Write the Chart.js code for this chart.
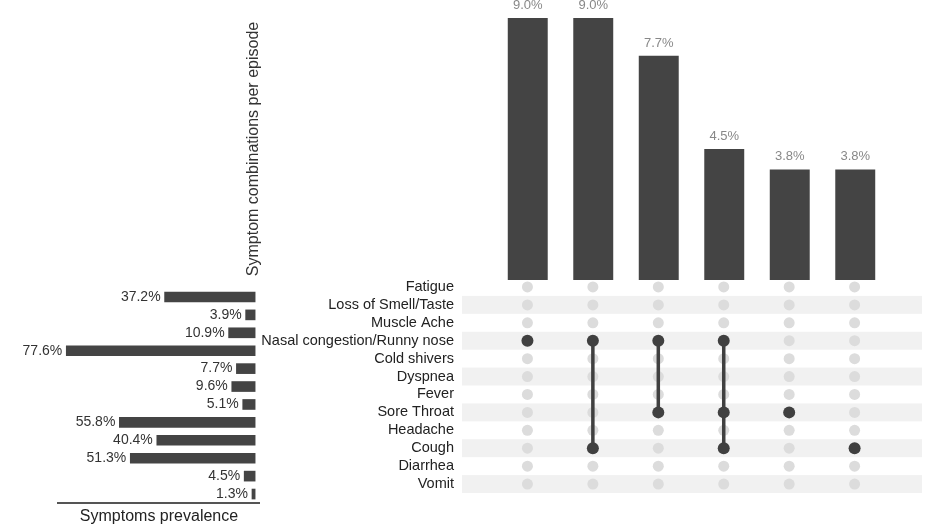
<!DOCTYPE html>
<html>
<head>
<meta charset="utf-8">
<script src="https://cdn.jsdelivr.net/npm/chart.js@4.4.1/dist/chart.umd.min.js"></script>
<style>
  html, body { margin: 0; padding: 0; background: #fff; }
  #wrap { position: relative; width: 925px; height: 528px; overflow: hidden; }
  .box { position: absolute; }
</style>
</head>
<body>
<div id="wrap">
  <div class="box" style="left:240px;top:0;width:685px;height:280px"><canvas id="combos"></canvas></div>
  <div class="box" style="left:250px;top:278px;width:675px;height:215px"><canvas id="matrix"></canvas></div>
  <div class="box" style="left:0;top:288px;width:260px;height:240px"><canvas id="prev"></canvas></div>
</div>
<script>
// symptom rows (top to bottom)
const symptoms = ['Fatigue', 'Loss of Smell/Taste', 'Muscle Ache', 'Nasal congestion/Runny nose',
  'Cold shivers', 'Dyspnea', 'Fever', 'Sore Throat', 'Headache', 'Cough', 'Diarrhea', 'Vomit'];
// % of episodes with each symptom
const prevalence = [37.2, 3.9, 10.9, 77.6, 7.7, 9.6, 5.1, 55.8, 40.4, 51.3, 4.5, 1.3];

// symptom combinations (columns, left to right)
const combos = [
  ['Nasal congestion/Runny nose'],
  ['Nasal congestion/Runny nose', 'Cough'],
  ['Nasal congestion/Runny nose', 'Sore Throat'],
  ['Nasal congestion/Runny nose', 'Sore Throat', 'Cough'],
  ['Sore Throat'],
  ['Cough']
];
// % of episodes per combination
const comboShare = [9.0, 9.0, 7.7, 4.5, 3.8, 3.8];

const FONT = "'Liberation Sans', Arial, sans-serif";
Chart.defaults.font.family = FONT;
const DARK = '#444444';

// ---- top: combination bars ----
const topLabels = {
  id: 'topLabels',
  afterDatasetsDraw(chart) {
    const ctx = chart.ctx;
    ctx.save();
    ctx.font = '13px ' + FONT;
    ctx.fillStyle = '#888';
    ctx.textAlign = 'center';
    ctx.textBaseline = 'alphabetic';
    chart.getDatasetMeta(0).data.forEach((bar, i) => {
      ctx.fillText(comboShare[i].toFixed(1) + '%', bar.x, bar.y - 9);
    });
    ctx.restore();
  }
};

new Chart(document.getElementById('combos'), {
  type: 'bar',
  data: {
    labels: combos.map(c => c.join(' + ')),
    datasets: [{
      data: comboShare,
      backgroundColor: DARK,
      barPercentage: 0.61,
      categoryPercentage: 1
    }]
  },
  options: {
    responsive: true,
    maintainAspectRatio: false,
    animation: false,
    layout: { padding: { top: 18, right: 37 } },
    plugins: { legend: { display: false }, tooltip: { enabled: false } },
    scales: {
      x: { display: false },
      y: {
        min: 0, max: 9,
        ticks: { display: false },
        grid: { display: false },
        border: { display: false },
        title: {
          display: true,
          text: 'Symptom combinations per episode',
          color: '#333',
          font: { size: 16 },
          padding: { top: 4, bottom: 4 }
        },
        afterFit(s) { s.width = 255; }
      }
    }
  },
  plugins: [topLabels]
});

// ---- matrix of dots ----
const bgDots = [];
combos.forEach((c, ci) => symptoms.forEach(s => bgDots.push({ x: ci, y: s })));

const comboSets = combos.map((c, ci) => ({
  data: symptoms.filter(s => c.includes(s)).map(s => ({ x: ci, y: s })),
  showLine: true,
  borderColor: '#404040',
  borderWidth: 3.5,
  pointRadius: 6,
  pointBackgroundColor: '#404040',
  pointBorderWidth: 0,
  order: 0
}));

const stripes = {
  id: 'stripes',
  beforeDatasetsDraw(chart) {
    const ctx = chart.ctx, y = chart.scales.y, area = chart.chartArea;
    const band = (y.bottom - y.top) / symptoms.length;
    ctx.save();
    ctx.fillStyle = '#f1f1f1';
    symptoms.forEach((s, i) => {
      if (i % 2 === 1) {
        ctx.fillRect(area.left, y.getPixelForValue(i) - band / 2, area.right - area.left, band);
      }
    });
    ctx.restore();
  }
};

new Chart(document.getElementById('matrix'), {
  type: 'scatter',
  data: {
    datasets: comboSets.concat([{
      data: bgDots,
      pointRadius: 5.5,
      pointBackgroundColor: '#dcdcdc',
      pointBorderWidth: 0,
      order: 1
    }])
  },
  options: {
    responsive: true,
    maintainAspectRatio: false,
    animation: false,
    layout: { autoPadding: false, padding: { right: 3 } },
    plugins: { legend: { display: false }, tooltip: { enabled: false } },
    scales: {
      x: { type: 'linear', min: -1, max: 6.03, display: false },
      y: {
        type: 'category',
        labels: symptoms,
        offset: true,
        grid: { display: false, drawTicks: false },
        border: { display: false },
        ticks: { color: '#222', font: { size: 14.5 }, padding: 8, autoSkip: false },
        afterFit(s) { s.width = 212; s.paddingTop = 0; s.paddingBottom = 0; }
      }
    }
  },
  plugins: [stripes]
});

// ---- left: symptom prevalence ----
const prevLabels = {
  id: 'prevLabels',
  afterDatasetsDraw(chart) {
    const ctx = chart.ctx;
    ctx.save();
    ctx.font = '14px ' + FONT;
    ctx.fillStyle = '#333';
    ctx.textAlign = 'right';
    ctx.textBaseline = 'middle';
    chart.getDatasetMeta(0).data.forEach((bar, i) => {
      ctx.fillText(prevalence[i].toFixed(1) + '%', bar.x - 4, bar.y);
    });
    ctx.restore();
  }
};

new Chart(document.getElementById('prev'), {
  type: 'bar',
  data: {
    labels: symptoms,
    datasets: [{ data: prevalence, backgroundColor: DARK, barThickness: 10 }]
  },
  options: {
    indexAxis: 'y',
    responsive: true,
    maintainAspectRatio: false,
    animation: false,
    layout: { padding: { left: 58 } },
    plugins: { legend: { display: false }, tooltip: { enabled: false } },
    scales: {
      y: { display: false },
      x: {
        reverse: true,
        min: -2, max: 81,
        ticks: { display: false },
        grid: { display: false },
        border: { display: true, color: '#555', width: 2 },
        title: {
          display: true,
          text: 'Symptoms prevalence',
          color: '#222',
          font: { size: 16 },
          padding: { top: 0, bottom: 2 }
        },
        afterFit(s) { s.height = 25; }
      }
    }
  },
  plugins: [prevLabels]
});
</script>
</body>
</html>
